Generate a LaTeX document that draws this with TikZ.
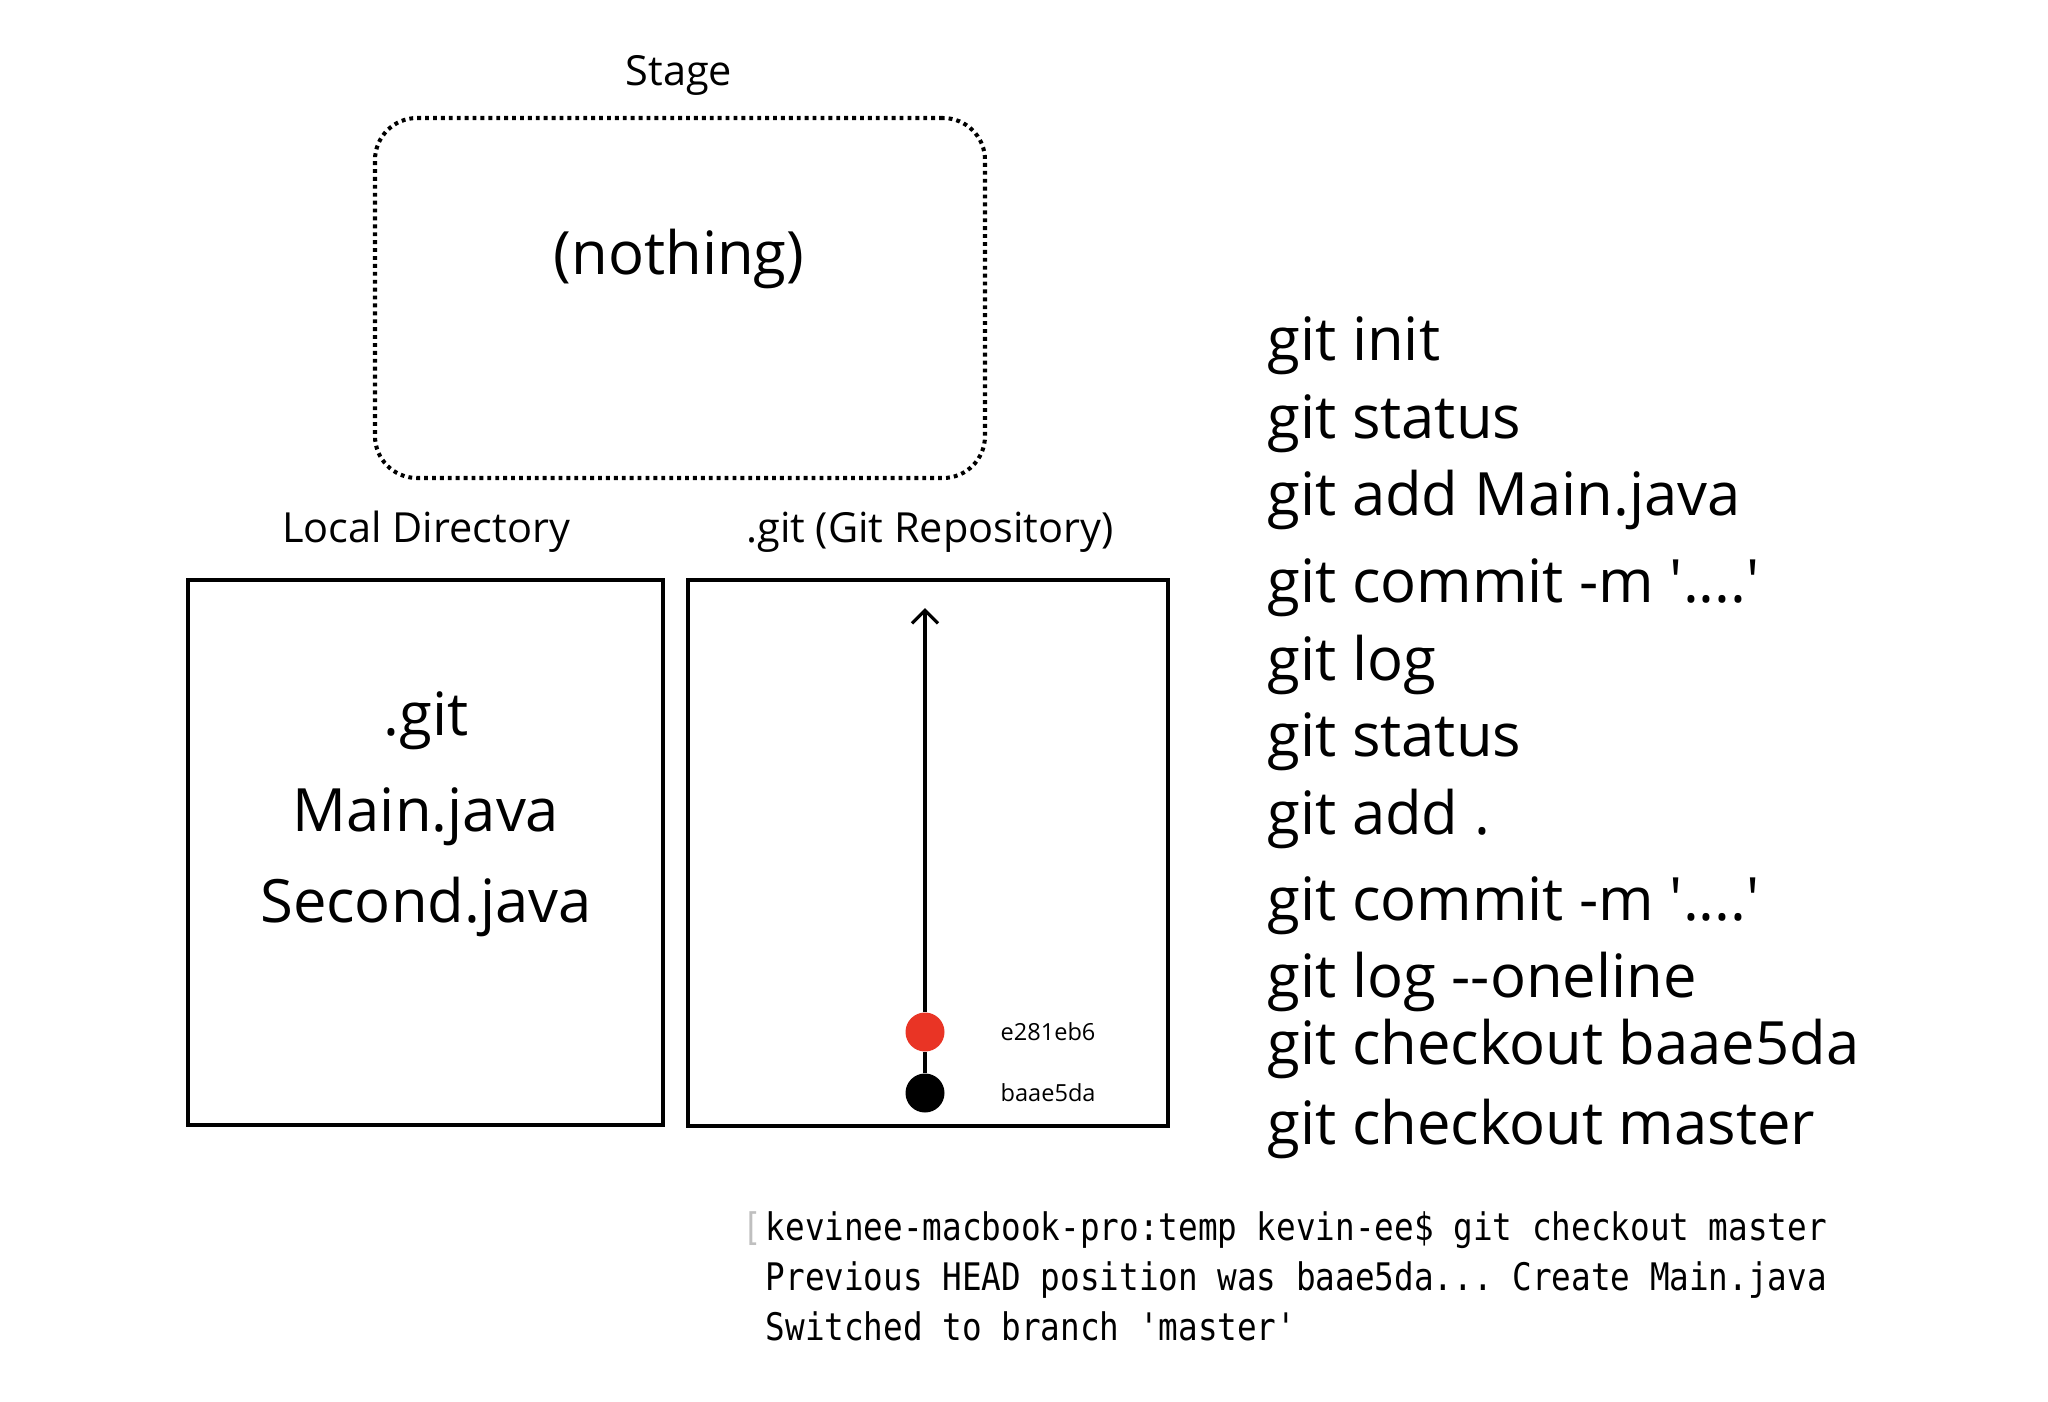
\documentclass[tikz,border=0pt]{standalone}
\usepackage{fontspec}
\setmainfont{Open Sans}[Ligatures=TeXOff]
\newfontfamily\termfont[FakeStretch=0.86, Ligatures=TeXOff]{DejaVu Sans Mono}
\usetikzlibrary{arrows.meta}
\definecolor{commitred}{RGB}{233,52,37}

\tikzset{
	boxframe/.style={draw, line width=1.15pt, inner sep=0pt},
	stageframe/.style={draw, line width=1.15pt, dash pattern=on 1.1pt off 1.15pt, rounded corners=0.42cm, inner sep=0pt},
	bigtext/.style={font=\fontsize{17}{20}\selectfont, inner sep=0pt, anchor=base},
	labeltext/.style={font=\fontsize{11.8}{14}\selectfont, inner sep=0pt, anchor=base},
	cmdtext/.style={font=\fontsize{17}{20}\selectfont, inner sep=0pt, anchor=base west},
	hashtext/.style={font=\fontsize{6.7}{8}\selectfont, inner sep=0pt, anchor=base west},
	termtext/.style={font=\termfont\fontsize{10.8}{13}\selectfont\frenchspacing, inner sep=0pt, anchor=base west},
	commit/.style={circle, inner sep=0pt, minimum size=0.39cm},
}

\begin{document}
\begin{tikzpicture}
	\useasboundingbox (0,0) rectangle (20.48,-14.02);

	% staging area
	\node[labeltext] (stagelabel) at (6.79,-0.85) {Stage};
	\node[stageframe, minimum width=6.10cm, minimum height=3.60cm] (stage) at (6.80,-2.98) {};
	\node[bigtext] (nothing) at (6.79,-2.74) {(nothing)};

	% working directory
	\node[labeltext] (locallabel) at (4.26,-5.42) {Local Directory};
	\node[boxframe, minimum width=4.75cm, minimum height=5.45cm] (local) at (4.255,-8.525) {};
	\node[bigtext] (gitdir) at (4.26,-7.35) {.git};
	\node[bigtext] (mainfile) at (4.26,-8.31) {Main.java};
	\node[bigtext] (secondfile) at (4.26,-9.22) {Second.java};

	% repository with commits
	\node[labeltext] (repolabel) at (9.30,-5.42) {.git (Git Repository)};
	\node[boxframe, minimum width=4.80cm, minimum height=5.46cm] (repo) at (9.28,-8.53) {};
	\coordinate (head) at (9.25,-6.08);
	\node[commit, fill=black] (first) at (9.25,-10.93) {};
	\node[commit, fill=commitred] (second) at (9.25,-10.32) {};
	\draw[line width=0.95pt] (first) -- (second);
	\draw[line width=0.95pt, -{Straight Barb[length=3.7pt, width=7.4pt]}] (second) -- (head);
	\node[hashtext] (secondhash) at (10.00,-10.40) {e281eb6};
	\node[hashtext] (firsthash) at (10.00,-11.01) {baae5da};

	% commands
	\node[cmdtext] (cmdinit) at (12.67,-3.60) {git init};
	\node[cmdtext] (cmdstatus) at (12.67,-4.38) {git status};
	\node[cmdtext] (cmdaddmain) at (12.67,-5.15) {git add Main.java};
	\node[cmdtext] (cmdcommit) at (12.67,-6.02) {git commit -m '....'};
	\node[cmdtext] (cmdlog) at (12.67,-6.80) {git log};
	\node[cmdtext] (cmdstatustwo) at (12.67,-7.56) {git status};
	\node[cmdtext] (cmdaddall) at (12.67,-8.34) {git add .};
	\node[cmdtext] (cmdcommittwo) at (12.67,-9.20) {git commit -m '....'};
	\node[cmdtext] (cmdoneline) at (12.67,-9.97) {git log --oneline};
	\node[cmdtext] (cmdcheckout) at (12.67,-10.64) {git checkout baae5da};
	\node[cmdtext] (cmdmaster) at (12.67,-11.44) {git checkout master};

	% terminal output
	\node[termtext, anchor=base east, text=gray!50] (termmark) at (7.63,-12.40) {[};
	\node[termtext] (termone) at (7.65,-12.40) {kevinee-macbook-pro:temp kevin-ee\$ git checkout master};
	\node[termtext] (termtwo) at (7.65,-12.90) {Previous HEAD position was baae5da... Create Main.java};
	\node[termtext] (termthree) at (7.65,-13.40) {Switched to branch 'master'};
\end{tikzpicture}
\end{document}
